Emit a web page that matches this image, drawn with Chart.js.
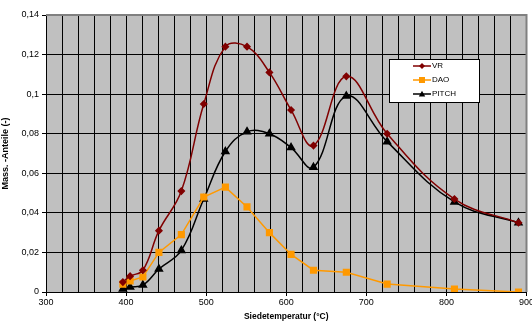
<!DOCTYPE html>
<html lang="de">
<head>
<meta charset="UTF-8">
<title>Siedetemperatur</title>
<script src="https://cdn.jsdelivr.net/npm/chart.js"></script>
<style>
  body { margin: 0; background: #fff; }
  #wrap { width: 532px; height: 322px; }
</style>
</head>
<body>
<div id="wrap"><canvas id="grafica" width="532" height="322"></canvas></div>
<script>
// Werte
const temperaturen = [396, 405, 421, 441, 469, 497, 524, 551, 579, 606, 634, 675, 726, 810, 890];
const vr    = [0.005, 0.008, 0.011, 0.031, 0.051, 0.095, 0.124, 0.124, 0.111, 0.092, 0.074, 0.109, 0.080, 0.047, 0.035];
const dao   = [0.004, 0.0056, 0.0076, 0.020, 0.029, 0.048, 0.053, 0.043, 0.030, 0.019, 0.011, 0.010, 0.004, 0.0015, 0.0];
const pitch = [0.0015, 0.0025, 0.0035, 0.0116, 0.021, 0.047, 0.071, 0.081, 0.080, 0.073, 0.063, 0.099, 0.076, 0.0455, 0.035];
const xTicks = [300, 400, 500, 600, 700, 800, 900];

const punkte = arr => arr.map((y, i) => ({ x: temperaturen[i], y: y }));
const komma = v => String(+v.toFixed(2)).replace('.', ',');

// grauer Plotbereich und Rahmen
const hintergrund = {
  id: 'hintergrund',
  beforeDraw(chart) {
    const { ctx, chartArea: a } = chart;
    ctx.save();
    ctx.fillStyle = '#c0c0c0';
    ctx.fillRect(a.left, a.top, a.right - a.left, a.bottom - a.top);
    ctx.restore();
  },
  afterDatasetsDraw(chart) {
    const { ctx, chartArea: a } = chart;
    ctx.save();
    ctx.strokeStyle = '#808080';
    ctx.lineWidth = 2;
    ctx.beginPath();
    ctx.moveTo(a.left, a.top);
    ctx.lineTo(a.right, a.top);
    ctx.lineTo(a.right, a.bottom);
    ctx.stroke();
    ctx.restore();
  }
};

// Legende im Diagramm
const legende = {
  id: 'legende',
  afterDraw(chart) {
    const ctx = chart.ctx;
    const x = 389, y = 59, w = 90, h = 43;
    ctx.save();
    ctx.fillStyle = '#fff';
    ctx.fillRect(x, y, w, h);
    ctx.strokeStyle = '#000';
    ctx.lineWidth = 1;
    ctx.strokeRect(x + 0.5, y + 0.5, w, h);
    ctx.font = '8px "Liberation Sans", Arial, sans-serif';
    ctx.textBaseline = 'middle';
    chart.data.datasets.forEach((ds, i) => {
      const ly = 66 + i * 14;
      ctx.strokeStyle = ds.borderColor;
      ctx.lineWidth = 1.5;
      ctx.beginPath();
      ctx.moveTo(413, ly);
      ctx.lineTo(431, ly);
      ctx.stroke();
      ctx.fillStyle = ds.borderColor;
      const r = ds.pointRadius;
      ctx.beginPath();
      if (ds.pointStyle === 'rect') {
        ctx.rect(422 - r * 0.75, ly - r * 0.75, r * 1.5, r * 1.5);
      } else if (ds.pointStyle === 'triangle') {
        ctx.moveTo(422, ly - r * 0.8);
        ctx.lineTo(422 + r * 0.8, ly + r * 0.6);
        ctx.lineTo(422 - r * 0.8, ly + r * 0.6);
      } else {
        ctx.moveTo(422, ly - r); ctx.lineTo(422 + r, ly);
        ctx.lineTo(422, ly + r); ctx.lineTo(422 - r, ly);
      }
      ctx.closePath();
      ctx.fill();
      ctx.fillStyle = '#000';
      ctx.fillText(ds.label, 432, ly);
    });
    ctx.restore();
  }
};

new Chart(document.getElementById('grafica'), {
  type: 'line',
  data: {
    datasets: [
      { label: 'VR', data: punkte(vr), borderColor: '#800000', backgroundColor: '#800000',
        borderWidth: 1.5, pointStyle: 'rectRot', pointRadius: 3, tension: 0.4 },
      { label: 'DAO', data: punkte(dao), borderColor: '#ff9900', backgroundColor: '#ff9900',
        borderWidth: 1.5, pointStyle: 'rect', pointRadius: 4, tension: 0 },
      { label: 'PITCH', data: punkte(pitch), borderColor: '#000000', backgroundColor: '#000000',
        borderWidth: 1.5, pointStyle: 'triangle', pointRadius: 4, tension: 0.4 }
    ]
  },
  options: {
    responsive: false,
    animation: false,
    layout: { padding: { top: 15, right: 5, left: 0, bottom: 0 } },
    plugins: { legend: { display: false }, tooltip: { enabled: false } },
    scales: {
      x: {
        type: 'linear', min: 300, max: 900,
        afterBuildTicks: s => { s.ticks = []; for (let v = 300; v <= 900; v += 20) s.ticks.push({ value: v }); },
        afterFit: s => { s.height = 30; s.paddingRight = 0; s.paddingLeft = 0; },
        grid: {
          color: '#000', lineWidth: 1, tickLength: 4,
          tickColor: c => xTicks.includes(c.tick.value) ? '#000' : 'rgba(0,0,0,0)'
        },
        border: { color: '#000', width: 1 },
        ticks: {
          color: '#000', padding: 1, maxRotation: 0, autoSkip: false,
          font: { family: '"Liberation Sans", Arial, sans-serif', size: 9 },
          callback: v => xTicks.includes(v) ? String(v) : ''
        },
        title: {
          display: true, text: 'Siedetemperatur (°C)', color: '#000', padding: { top: 3, bottom: 0 },
          font: { family: '"Liberation Sans", Arial, sans-serif', size: 8.5, weight: 'bold' }
        }
      },
      y: {
        min: 0, max: 0.14,
        afterFit: s => { s.width = 46; },
        grid: { color: '#000', lineWidth: 1, tickLength: 4 },
        border: { color: '#000', width: 1 },
        ticks: {
          stepSize: 0.02, color: '#000', padding: 3,
          font: { family: '"Liberation Sans", Arial, sans-serif', size: 9 },
          callback: v => komma(v)
        },
        title: {
          display: true, text: 'Mass. -Anteile (-)', color: '#000', padding: { top: 0, bottom: 2 },
          font: { family: '"Liberation Sans", Arial, sans-serif', size: 9, weight: 'bold' }
        }
      }
    }
  },
  plugins: [hintergrund, legende]
});
</script>
</body>
</html>
